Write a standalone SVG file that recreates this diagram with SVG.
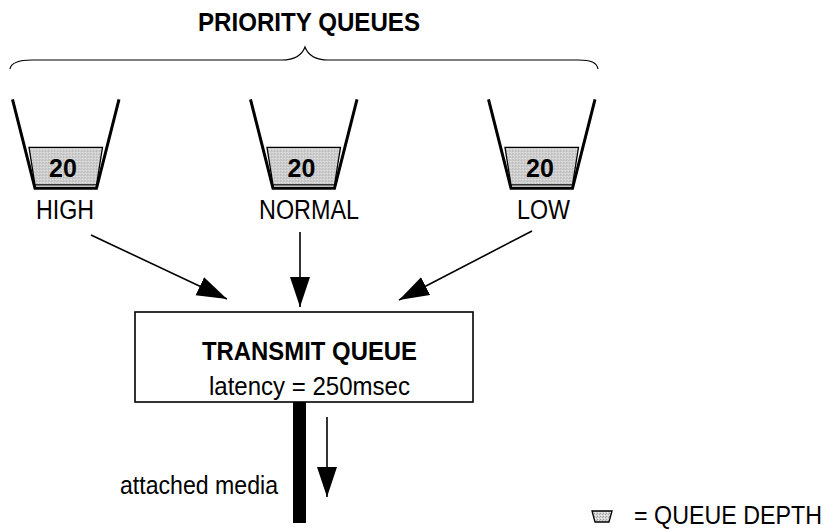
<svg xmlns="http://www.w3.org/2000/svg" width="836" height="532" viewBox="0 0 836 532">
  <style>
    .t { font-family: "Liberation Sans", Arial, sans-serif; fill: #000; }
    .b { font-weight: bold; }
    .bucket { fill: none; stroke: #000; stroke-width: 3; stroke-linejoin: miter; }
    .level { fill: url(#stip); stroke: #000; stroke-width: 1.3; }
    .conn { stroke: #000; stroke-width: 1.6; fill: none; }
  </style>
  <defs>
    <pattern id="stip" width="3" height="3" patternUnits="userSpaceOnUse">
      <rect width="3" height="3" fill="#d4d4d4"/>
      <rect x="0" y="0" width="1" height="1" fill="#9a9a9a"/>
      <rect x="2" y="1" width="1" height="1" fill="#b0b0b0"/>
      <rect x="1" y="2" width="1" height="1" fill="#f0f0f0"/>
    </pattern>
    <marker id="ah" markerUnits="userSpaceOnUse" markerWidth="31" markerHeight="21" refX="30" refY="10" orient="auto">
      <path d="M0,0 L30,10 L0,20 Z" fill="#000"/>
    </marker>
    <g id="bkt">
      <path class="bucket" d="M0,0 L22.5,89 L84,89 L106.5,0"/>
      <path class="level" d="M16.5,48 L90,48 L84,85.5 L22.5,85.5 Z"/>
    </g>
  </defs>

  <g id="title">
    <text class="t b" x="309" y="31" font-size="25" text-anchor="middle" textLength="222" lengthAdjust="spacingAndGlyphs">PRIORITY QUEUES</text>
    <path d="M10,69 C11,63 17,60 32,60 L282,60 C296,60 302,55 305,47 C308,55 314,60 328,60 L578,60 C592,60 597,63 598,69" fill="none" stroke="#000" stroke-width="1.2"/>
  </g>

  <g id="high">
    <use href="#bkt" x="12.5" y="99.3"/>
    <text class="t b" x="63" y="177" font-size="25" text-anchor="middle">20</text>
    <text class="t" x="65" y="219" font-size="27" text-anchor="middle" textLength="58" lengthAdjust="spacingAndGlyphs">HIGH</text>
  </g>

  <g id="normal">
    <use href="#bkt" x="250.5" y="99.3"/>
    <text class="t b" x="301.5" y="177" font-size="25" text-anchor="middle">20</text>
    <text class="t" x="309" y="219" font-size="27" text-anchor="middle" textLength="100" lengthAdjust="spacingAndGlyphs">NORMAL</text>
  </g>

  <g id="low">
    <use href="#bkt" x="488.5" y="99.3"/>
    <text class="t b" x="540" y="177" font-size="25" text-anchor="middle">20</text>
    <text class="t" x="543.5" y="219" font-size="27" text-anchor="middle" textLength="53" lengthAdjust="spacingAndGlyphs">LOW</text>
  </g>

  <g id="transmit">
    <rect x="135" y="312" width="338" height="90" fill="#fff" stroke="#000" stroke-width="1.6"/>
    <text class="t b" x="309.5" y="360" font-size="25" text-anchor="middle" textLength="215" lengthAdjust="spacingAndGlyphs">TRANSMIT QUEUE</text>
    <text class="t" x="309.5" y="395" font-size="26" text-anchor="middle" textLength="201" lengthAdjust="spacingAndGlyphs">latency = 250msec</text>
  </g>

  <g id="media">
    <rect x="293" y="402" width="13" height="121" fill="#000"/>
    <text class="t" x="278" y="494" font-size="26" text-anchor="end" textLength="158" lengthAdjust="spacingAndGlyphs">attached media</text>
  </g>

  <g id="connectors">
    <line class="conn" x1="91" y1="235" x2="227" y2="299" marker-end="url(#ah)"/>
    <line class="conn" x1="300" y1="232" x2="300" y2="307" marker-end="url(#ah)"/>
    <line class="conn" x1="532" y1="231" x2="399" y2="300" marker-end="url(#ah)"/>
    <line class="conn" x1="327" y1="417" x2="327" y2="497" marker-end="url(#ah)"/>
  </g>

  <g id="legend">
    <path class="level" d="M592,511 L612,511 L609,522 L595,522 Z"/>
    <text class="t" x="634" y="524" font-size="25" textLength="188" lengthAdjust="spacingAndGlyphs">= QUEUE DEPTH</text>
  </g>
</svg>
